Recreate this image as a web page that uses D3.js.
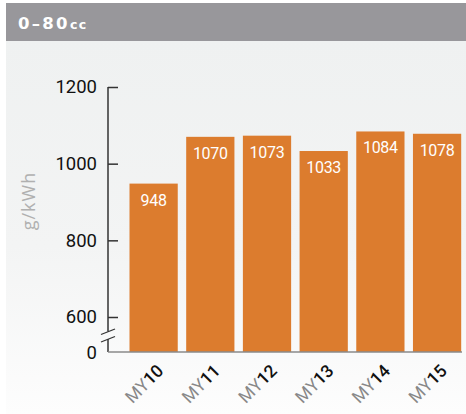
<!DOCTYPE html>
<html><head><meta charset="utf-8">
<script src="https://cdn.jsdelivr.net/npm/d3@7"></script>
<style>html,body{margin:0;padding:0;background:#fff;}svg{display:block;}</style>
</head><body>
<script>
const categories = ["MY10","MY11","MY12","MY13","MY14","MY15"];
const values = [948, 1070, 1073, 1033, 1084, 1078];
const yTicks = [600, 800, 1000, 1200];
const title = "0–80";
const titleUnit = "cc";
const yLabel = "g/kWh";

const W = 466, H = 414;
const svg = d3.select("body").append("svg").attr("width", W).attr("height", H);
const defs = svg.append("defs");
const grad = defs.append("linearGradient").attr("id","bg").attr("x1",0).attr("y1",0).attr("x2",0).attr("y2",1);
grad.append("stop").attr("offset","0%").attr("stop-color","#eff1f1");
grad.append("stop").attr("offset","55%").attr("stop-color","#f3f4f4");
grad.append("stop").attr("offset","100%").attr("stop-color","#fdfdfd");

svg.append("rect").attr("x",0).attr("y",0).attr("width",W).attr("height",H).attr("fill","#fff");
svg.append("rect").attr("x",6).attr("y",41).attr("width",W-6).attr("height",H-41).attr("fill","url(#bg)");
svg.append("rect").attr("x",6).attr("y",3).attr("width",W-6).attr("height",38).attr("fill","#98979b");

const t = svg.append("text").attr("x",18).attr("y",29)
  .attr("font-family","'DejaVu Sans', sans-serif").attr("font-weight","bold")
  .attr("fill","#fff").attr("font-size",16.5).attr("letter-spacing","2.3px");
t.append("tspan").text(title);
t.append("tspan").attr("font-size",12.5).attr("letter-spacing","1.4px").attr("dx",0).text(titleUnit);

const axisX = 108, baseY = 352, breakTop = 331.5, breakBot = 339;
const y = d3.scaleLinear().domain([600,1200]).range([317,87]);
const x = d3.scaleBand().domain(categories).range([129.5, 453+8.2]).paddingInner(0.149).paddingOuter(0);
const barBottom = baseY;

// bars
svg.append("g").selectAll("rect").data(values).join("rect")
  .attr("x",(d,i)=>x(categories[i]))
  .attr("y",d=>y(d))
  .attr("width",x.bandwidth())
  .attr("height",d=>barBottom - y(d))
  .attr("fill","#dc7c2e");

// bar labels
svg.append("g").selectAll("text").data(values).join("text")
  .attr("x",(d,i)=>x(categories[i])+x.bandwidth()/2)
  .attr("y",d=>y(d)+22)
  .attr("text-anchor","middle")
  .attr("font-family","Roboto, 'Open Sans', sans-serif")
  .attr("font-size",16).attr("letter-spacing","-0.3px").attr("fill","#fff")
  .text(d=>d);

// y axis
const yAxis = d3.axisLeft(y).tickValues(yTicks).tickSizeInner(-10).tickSizeOuter(0).tickPadding(11).tickFormat(d3.format("d"));
const ga = svg.append("g").attr("transform",`translate(${axisX},0)`).call(yAxis);
ga.select(".domain").remove();
ga.selectAll(".tick line").attr("stroke","#333").attr("stroke-width",1.5);
ga.selectAll(".tick text").attr("font-family","Roboto, 'Open Sans', sans-serif").attr("font-size",18.5).attr("fill","#111");

// zero label
svg.append("text").attr("x",97).attr("y",baseY+6.5)
  .attr("text-anchor","end").attr("font-family","Roboto, 'Open Sans', sans-serif").attr("font-size",18.5).attr("fill","#111").text("0");

// axis line with break
svg.append("line").attr("x1",axisX).attr("x2",axisX).attr("y1",y(1200)).attr("y2",breakTop).attr("stroke","#333").attr("stroke-width",1.5);
svg.append("line").attr("x1",axisX).attr("x2",axisX).attr("y1",breakBot).attr("y2",baseY).attr("stroke","#333").attr("stroke-width",1.5);
[breakTop+3, breakBot+3].forEach(cy=>{
  svg.append("line").attr("x1",101).attr("y1",cy).attr("x2",115).attr("y2",cy-5.5).attr("stroke","#333").attr("stroke-width",1.3);
});
// baseline
svg.append("line").attr("x1",axisX).attr("x2",462).attr("y1",baseY).attr("y2",baseY).attr("stroke","#8a8a8a").attr("stroke-width",1.6);

// x labels
const xl = svg.append("g").selectAll("text").data(categories).join("text")
  .attr("transform",d=>`translate(${x(d)+x.bandwidth()/2+11},${baseY+20}) rotate(-45)`)
  .attr("text-anchor","end")
  .attr("font-family","Roboto, 'Open Sans', sans-serif").attr("font-size",17.5);
xl.append("tspan").attr("fill","#888").text(d=>d.slice(0,2));
xl.append("tspan").attr("fill","#111").attr("font-weight","500").text(d=>d.slice(2));

// y label
svg.append("text").attr("transform","translate(35,201) rotate(-90)")
  .attr("text-anchor","middle").attr("font-family","'Open Sans', sans-serif")
  .attr("font-size",18).attr("letter-spacing","1px").attr("fill","#b0b0b0").text(yLabel);
</script>
</body></html>
